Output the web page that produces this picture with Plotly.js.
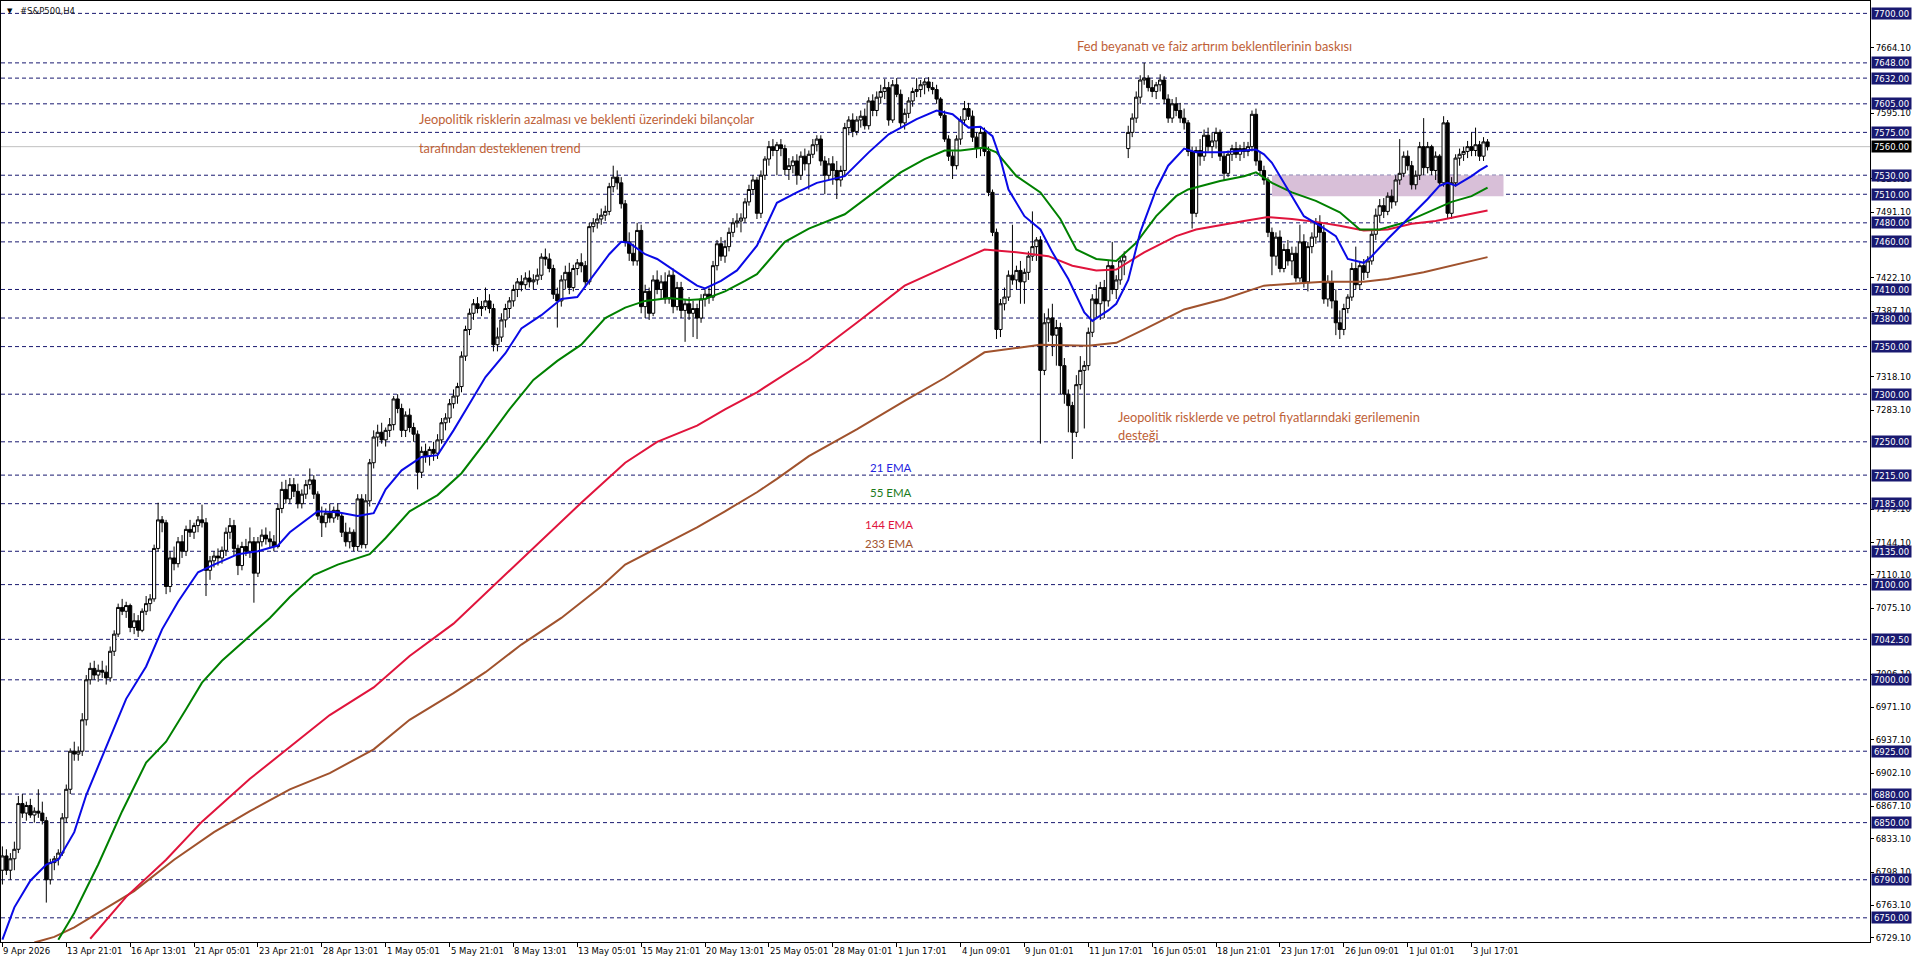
<!DOCTYPE html>
<html><head><meta charset="utf-8">
<script src="https://cdn.plot.ly/plotly-3.0.1.min.js"></script>
<style>html,body{margin:0;padding:0;background:#fff;overflow:hidden}#chart{width:1916px;height:963px}</style>
</head><body><div id="chart"></div>
<script>
// ---- candle data (H4 bars, index 0 = 9 Apr 2026) ----
const open = [6800,6815,6800,6812,6822,6870,6860,6868,6858,6862,6860,6852,6790,6808,6812,6818,6855,6885,6925,6922,
6925,6958,7000,7012,7005,7010,7008,7002,7030,7048,7076,7072,7078,7055,7062,7052,7072,7080,7085,7138,
7168,7165,7098,7128,7122,7145,7135,7158,7155,7162,7168,7165,7115,7125,7130,7128,7136,7155,7162,7138,
7120,7140,7135,7145,7112,7145,7152,7148,7145,7140,7180,7200,7190,7205,7198,7185,7195,7205,7210,7195,
7172,7165,7175,7170,7178,7172,7155,7145,7155,7140,7190,7142,7188,7228,7255,7260,7252,7262,7268,7295,
7285,7262,7278,7265,7258,7218,7240,7235,7242,7238,7252,7270,7275,7290,7298,7308,7340,7368,7385,7395,
7390,7392,7398,7390,7352,7360,7378,7390,7398,7410,7418,7415,7422,7418,7420,7425,7444,7442,7432,7405,
7398,7420,7428,7412,7432,7438,7435,7418,7476,7480,7484,7488,7492,7518,7528,7522,7500,7460,7448,7440,
7472,7392,7408,7385,7420,7410,7418,7400,7425,7392,7412,7388,7395,7385,7390,7380,7400,7405,7402,7435,
7458,7445,7455,7470,7480,7482,7485,7502,7515,7525,7490,7530,7547,7560,7556,7562,7558,7536,7540,7545,
7530,7550,7542,7552,7562,7568,7545,7530,7542,7535,7525,7535,7580,7588,7576,7588,7592,7582,7608,7598,
7612,7618,7622,7588,7625,7615,7585,7595,7608,7618,7620,7625,7628,7622,7620,7610,7593,7568,7550,7540,
7568,7588,7600,7592,7570,7558,7575,7555,7512,7470,7368,7395,7402,7425,7420,7430,7418,7428,7445,7455,
7462,7325,7375,7380,7362,7370,7330,7300,7288,7260,7310,7325,7330,7365,7400,7395,7412,7398,7435,7410,
7420,7440,7558,7575,7590,7612,7630,7632,7622,7618,7625,7630,7610,7590,7605,7598,7590,7585,7555,7490,
7556,7550,7572,7560,7566,7575,7550,7532,7552,7558,7552,7558,7555,7560,7594,7545,7535,7525,7470,7445,
7465,7432,7452,7440,7448,7422,7460,7418,7455,7465,7480,7470,7400,7418,7398,7375,7368,7390,7402,7432,
7415,7435,7428,7440,7468,7488,7498,7492,7508,7502,7525,7532,7550,7540,7520,7530,7560,7538,7560,7535,
7550,7522,7585,7490,7522,7548,7552,7555,7560,7556,7562,7550,7565];
const high = [6825,6822,6818,6830,6878,6880,6872,6875,6866,6885,6872,6856,6812,6815,6822,6860,6890,6928,6935,6930,
6965,7005,7018,7020,7016,7020,7015,7035,7052,7080,7085,7082,7080,7070,7068,7075,7088,7090,7142,7186,
7172,7168,7135,7140,7150,7152,7162,7168,7165,7172,7184,7170,7130,7135,7138,7140,7160,7170,7168,7142,
7145,7148,7160,7150,7150,7158,7160,7156,7152,7185,7208,7210,7212,7212,7206,7200,7210,7222,7215,7198,
7182,7180,7185,7182,7185,7175,7165,7160,7158,7195,7195,7195,7232,7262,7268,7270,7265,7275,7298,7300,
7290,7282,7285,7270,7262,7245,7248,7245,7250,7258,7275,7280,7295,7305,7312,7345,7372,7390,7400,7402,
7398,7412,7405,7395,7370,7385,7395,7402,7415,7422,7425,7428,7430,7426,7432,7448,7453,7448,7436,7412,
7425,7435,7438,7436,7442,7448,7440,7480,7485,7490,7495,7498,7522,7540,7535,7528,7504,7470,7458,7480,
7478,7415,7412,7425,7430,7425,7428,7430,7432,7418,7418,7400,7402,7398,7395,7405,7410,7412,7440,7462,
7465,7462,7475,7485,7490,7490,7506,7520,7530,7528,7535,7550,7566,7568,7565,7568,7562,7548,7550,7552,
7555,7558,7556,7568,7572,7572,7550,7548,7550,7545,7540,7585,7592,7595,7592,7598,7600,7612,7615,7618,
7625,7631,7628,7630,7632,7620,7600,7612,7622,7632,7630,7632,7633,7628,7625,7612,7598,7572,7555,7572,
7592,7608,7606,7598,7575,7580,7580,7560,7515,7474,7400,7412,7430,7478,7435,7440,7432,7450,7492,7465,
7466,7385,7390,7395,7378,7375,7338,7305,7292,7320,7340,7335,7370,7405,7415,7418,7420,7440,7460,7425,
7445,7450,7582,7595,7618,7635,7648,7635,7630,7628,7636,7634,7615,7610,7612,7606,7600,7588,7560,7560,
7568,7578,7580,7575,7580,7578,7555,7556,7562,7565,7562,7565,7565,7598,7600,7555,7540,7528,7475,7470,
7472,7458,7462,7455,7455,7478,7468,7460,7470,7485,7488,7478,7425,7430,7410,7388,7395,7405,7438,7455,
7440,7442,7445,7472,7495,7505,7506,7512,7515,7530,7568,7555,7556,7545,7535,7565,7590,7565,7562,7555,
7552,7592,7588,7528,7552,7558,7560,7566,7575,7580,7566,7570,7568];
const low = [6785,6795,6790,6800,6818,6855,6852,6855,6850,6855,6848,6766,6785,6800,6805,6815,6850,6880,6915,6915,
6920,6952,6995,7000,6998,7002,6995,6998,7025,7045,7068,7065,7050,7048,7045,7050,7068,7072,7082,7135,
7155,7090,7092,7115,7118,7128,7130,7150,7148,7155,7160,7088,7105,7118,7120,7122,7130,7148,7130,7110,
7115,7130,7128,7081,7108,7140,7142,7138,7135,7138,7175,7185,7185,7192,7180,7180,7190,7200,7190,7168,
7150,7160,7165,7165,7168,7150,7140,7138,7135,7135,7138,7138,7182,7222,7245,7248,7245,7255,7262,7280,
7255,7255,7260,7250,7200,7212,7228,7225,7230,7232,7248,7262,7270,7285,7290,7302,7335,7362,7378,7385,
7382,7388,7385,7345,7345,7355,7370,7380,7392,7402,7408,7410,7412,7410,7415,7420,7435,7428,7400,7370,
7392,7410,7405,7408,7425,7428,7412,7415,7470,7474,7478,7482,7488,7512,7515,7495,7455,7440,7435,7435,
7385,7380,7378,7382,7405,7400,7395,7395,7385,7388,7380,7355,7378,7360,7358,7375,7392,7395,7398,7430,
7440,7438,7450,7465,7475,7470,7480,7498,7510,7484,7485,7525,7540,7550,7530,7550,7530,7525,7532,7520,
7525,7535,7515,7548,7555,7540,7510,7525,7520,7505,7518,7530,7572,7570,7572,7580,7578,7578,7592,7592,
7605,7610,7582,7585,7612,7580,7578,7590,7602,7612,7612,7615,7618,7615,7605,7590,7565,7545,7526,7536,
7562,7582,7588,7565,7548,7550,7550,7508,7466,7358,7360,7388,7398,7415,7410,7395,7395,7420,7440,7440,
7248,7320,7355,7340,7330,7300,7290,7260,7232,7255,7305,7264,7325,7360,7380,7378,7380,7392,7405,7400,
7415,7425,7548,7570,7585,7605,7625,7618,7612,7610,7618,7605,7585,7585,7592,7585,7578,7550,7474,7486,
7540,7545,7555,7548,7558,7545,7525,7528,7545,7548,7545,7548,7550,7555,7540,7530,7520,7465,7425,7435,
7428,7428,7435,7425,7418,7418,7412,7408,7448,7458,7460,7395,7392,7390,7362,7358,7362,7385,7398,7410,
7410,7420,7422,7436,7462,7480,7485,7488,7495,7498,7520,7528,7535,7515,7515,7525,7530,7532,7530,7525,
7520,7518,7485,7484,7518,7540,7545,7548,7550,7550,7545,7545,7556];
const close = [6815,6800,6812,6822,6870,6860,6868,6858,6862,6860,6852,6790,6808,6812,6818,6855,6885,6925,6922,6925,
6958,7000,7012,7005,7010,7008,7002,7030,7048,7076,7072,7078,7055,7062,7052,7072,7080,7085,7138,7168,
7165,7098,7128,7122,7145,7135,7158,7155,7162,7168,7165,7115,7125,7130,7128,7136,7155,7162,7138,7120,
7140,7135,7145,7112,7145,7152,7148,7145,7140,7180,7200,7190,7205,7198,7185,7195,7205,7210,7195,7172,
7165,7175,7170,7178,7172,7155,7145,7155,7140,7190,7142,7188,7228,7255,7260,7252,7262,7268,7295,7285,
7262,7278,7265,7258,7218,7240,7235,7242,7238,7252,7270,7275,7290,7298,7308,7340,7368,7385,7395,7390,
7392,7398,7390,7352,7360,7378,7390,7398,7410,7418,7415,7422,7418,7420,7425,7444,7442,7432,7405,7398,
7420,7428,7412,7432,7438,7435,7418,7476,7480,7484,7488,7492,7518,7528,7522,7500,7460,7448,7440,7472,
7392,7408,7385,7420,7410,7418,7400,7425,7392,7412,7388,7395,7385,7390,7380,7400,7405,7402,7435,7458,
7445,7455,7470,7480,7482,7485,7502,7515,7525,7490,7530,7547,7560,7556,7562,7558,7536,7540,7545,7530,
7550,7542,7552,7562,7568,7545,7530,7542,7535,7525,7535,7580,7588,7576,7588,7592,7582,7608,7598,7612,
7618,7622,7588,7625,7615,7585,7595,7608,7618,7620,7625,7628,7622,7620,7610,7593,7568,7550,7540,7568,
7588,7600,7592,7570,7558,7575,7555,7512,7470,7368,7395,7402,7425,7420,7430,7418,7428,7445,7455,7462,
7325,7375,7380,7362,7370,7330,7300,7288,7260,7310,7325,7330,7365,7400,7395,7412,7398,7435,7410,7420,
7440,7445,7575,7590,7612,7630,7632,7622,7618,7625,7630,7610,7590,7605,7598,7590,7585,7555,7490,7556,
7550,7572,7560,7566,7575,7550,7532,7552,7558,7552,7558,7555,7560,7594,7545,7535,7525,7470,7445,7465,
7432,7452,7440,7448,7422,7460,7418,7455,7465,7480,7470,7400,7418,7398,7375,7368,7390,7402,7432,7415,
7435,7428,7440,7468,7488,7498,7492,7508,7502,7525,7532,7550,7540,7520,7530,7560,7538,7560,7535,7550,
7522,7585,7490,7522,7548,7552,7555,7560,7556,7562,7550,7565,7560];

// ---- time axis labels ----
const xTickBars = [0,16,32,48,64,80,96,112,128,144,160,176,192,208,224,240,256,272,288,304,320,336,352,368];
const xTickLabels = ["9 Apr 2026","13 Apr 21:01","16 Apr 13:01","21 Apr 05:01","23 Apr 21:01","28 Apr 13:01",
  "1 May 05:01","5 May 21:01","8 May 13:01","13 May 05:01","15 May 21:01","20 May 13:01","25 May 05:01",
  "28 May 01:01","1 Jun 17:01","4 Jun 09:01","9 Jun 01:01","11 Jun 17:01","16 Jun 05:01","18 Jun 21:01",
  "23 Jun 17:01","26 Jun 09:01","1 Jul 01:01","3 Jul 17:01"];

// ---- price axis ----
const priceTicks = [7664.1,7595.1,7526.1,7491.1,7422.1,7387.1,7318.1,7283.1,
  7179.1,7144.1,7110.1,7075.1,7006.1,6971.1,6937.1,6902.1,6867.1,6833.1,6798.1,6763.1,6729.1];
const levels = [7700,7648,7632,7605,7575,7530,7510,7480,7460,7410,7380,7350,7300,7250,7215,7185,7135,7100,7042.5,
  7000,6925,6880,6850,6790,6750];
const bidPrice = 7560;
const zoneBars = [318, 376];
const zonePrices = [7508, 7530];

// ---- moving averages ----
const ema21Bars = [0,3,7,11,14,18,21,26,31,36,40,44,49,53,59,64,69,72,79,84,89,93,96,100,105,109,113,117,121,126,
  130,135,140,144,147,152,155,157,161,164,169,174,176,180,184,189,194,199,204,211,217,222,226,229,234,238,242,245,248,250,
  252,256,260,263,267,271,273,277,279,282,285,289,292,296,299,306,311,314,316,318,322,326,330,334,337,341,343,347,352,357,
  360,362,364,368,370,372];
const ema21 = [6727,6761,6789,6806,6811,6840,6879,6930,6980,7014,7053,7082,7113,7121,7132,7135,7141,7155,7177,7176,
  7172,7175,7200,7220,7234,7236,7262,7290,7318,7343,7369,7383,7400,7402,7419,7447,7460,7459,7447,7442,
  7428,7414,7411,7419,7430,7456,7501,7512,7522,7529,7554,7573,7582,7589,7598,7594,7580,7581,7571,7547,
  7515,7487,7473,7449,7421,7386,7377,7388,7395,7420,7470,7515,7540,7558,7554,7554,7556,7557,7552,7543,
  7515,7487,7477,7466,7442,7438,7445,7463,7484,7505,7519,7522,7519,7529,7535,7540];
const ema55Bars = [14,18,24,30,36,41,46,50,55,60,67,72,78,84,92,96,102,109,115,121,127,133,139,145,151,156,161,167,172,176,
  181,186,189,196,202,211,217,225,231,236,240,246,249,254,260,265,269,274,279,284,289,294,297,305,311,314,318,323,329,335,
  340,345,351,357,363,368,372];
const ema55 = [6727,6755,6806,6862,6913,6935,6969,6997,7020,7039,7065,7087,7110,7121,7132,7149,7177,7194,7217,7250,
  7284,7315,7335,7352,7380,7391,7398,7401,7399,7400,7408,7419,7426,7460,7474,7489,7508,7533,7547,7556,
  7556,7559,7554,7529,7512,7484,7452,7442,7440,7459,7487,7508,7515,7524,7529,7533,7522,7512,7503,7491,
  7473,7473,7480,7491,7502,7508,7517];
const ema144Bars = [22,31,41,50,62,72,82,93,102,113,123,133,145,156,164,174,181,189,202,214,226,237,246,254,262,268,274,279,
  286,294,299,311,317,323,329,335,341,347,353,359,365,372];
const ema144 = [6728,6772,6811,6851,6896,6930,6963,6992,7025,7059,7099,7138,7186,7228,7250,7267,7284,7302,7337,7375,
  7414,7435,7452,7449,7445,7435,7430,7431,7449,7466,7473,7482,7486,7484,7481,7477,7472,7473,7479,7482,7487,7493];
const ema233Bars = [8,13,18,24,33,43,53,62,72,82,93,102,113,121,130,140,150,156,164,174,181,189,194,202,214,226,236,246,255,260,
  272,279,286,296,306,316,323,331,341,347,356,363,372];
const ema233 = [6724,6730,6740,6755,6778,6811,6840,6862,6885,6902,6927,6958,6986,7008,7037,7065,7098,7121,7138,7160,
  7177,7197,7211,7235,7263,7293,7317,7344,7349,7352,7351,7354,7368,7389,7400,7414,7416,7418,7418,7421,7428,7435,7444];

// ---- texts ----
const notes = [
  {text:"Fed beyanatı ve faiz artırım beklentilerinin baskısı", x:1075, y:46},
  {text:"Jeopolitik risklerin azalması ve beklenti üzerindeki bilançolar", x:417, y:119},
  {text:"tarafından desteklenen trend", x:417, y:148},
  {text:"Jeopolitik risklerde ve petrol fiyatlarındaki gerilemenin", x:1116, y:417},
  {text:"desteği", x:1116, y:435}
];
const emaLabels = [
  {text:"21 EMA", x:868, y:467, color:"#2424E0"},
  {text:"55 EMA", x:868, y:492, color:"#1B7A1B"},
  {text:"144 EMA", x:863, y:524, color:"#E0143C"},
  {text:"233 EMA", x:863, y:543, color:"#A0522D"}
];

// ---- build ----
const W = 1916, H = 963, ML = 1, MR = 46, MT = 1, MB = 21;
const pw = W - ML - MR, ph = H - MT - MB;
const px = v => (v - ML) / pw;
const py = v => 1 - (v - MT) / ph;

const bars = close.map((_, i) => i);
const traces = [
  {type:'candlestick', x:bars, open:open, high:high, low:low, close:close,
   increasing:{line:{color:'#000', width:1}, fillcolor:'#ffffff'},
   decreasing:{line:{color:'#000', width:1}, fillcolor:'#000000'},
   whiskerwidth:0, hoverinfo:'skip', showlegend:false},
  {type:'scatter', mode:'lines', x:ema233Bars, y:ema233, line:{color:'#A0522D', width:2}, hoverinfo:'skip', showlegend:false},
  {type:'scatter', mode:'lines', x:ema144Bars, y:ema144, line:{color:'#E0143C', width:2}, hoverinfo:'skip', showlegend:false},
  {type:'scatter', mode:'lines', x:ema55Bars, y:ema55, line:{color:'#008000', width:2}, hoverinfo:'skip', showlegend:false},
  {type:'scatter', mode:'lines', x:ema21Bars, y:ema21, line:{color:'#0A0AE6', width:2}, hoverinfo:'skip', showlegend:false}
];

const shapes = [];
shapes.push({type:'rect', xref:'x', yref:'y', x0:zoneBars[0], x1:zoneBars[1], y0:zonePrices[0], y1:zonePrices[1],
  fillcolor:'#D8BFD8', line:{width:0}, layer:'below'});
levels.forEach(l => shapes.push({type:'line', xref:'paper', yref:'y', x0:0, x1:1, y0:l, y1:l,
  line:{color:'#191970', width:1, dash:'4px,3px'}, layer:'below'}));
shapes.push({type:'line', xref:'paper', yref:'y', x0:0, x1:1, y0:bidPrice, y1:bidPrice,
  line:{color:'#C0C0C0', width:1}, layer:'below'});

const axisFont = {family:'DejaVu Sans', size:8.5, color:'#000'};
const annotations = [];
levels.forEach(l => annotations.push({xref:'paper', yref:'y', x:1, y:l, xanchor:'left', yanchor:'middle', xshift:1,
  text:l.toFixed(2), showarrow:false, bgcolor:'#191970', borderpad:0, width:39, height:11,
  font:{family:'DejaVu Sans', size:8.5, color:'#fff'}}));
annotations.push({xref:'paper', yref:'y', x:1, y:bidPrice, xanchor:'left', yanchor:'middle', xshift:1,
  text:bidPrice.toFixed(2), showarrow:false, bgcolor:'#000', borderpad:0, width:39, height:11,
  font:{family:'DejaVu Sans', size:8.5, color:'#fff'}});
xTickBars.forEach((b, i) => annotations.push({xref:'x', yref:'paper', x:b, y:0, xanchor:'left', yanchor:'top',
  yshift:-2, xshift:-1, text:xTickLabels[i], showarrow:false, font:axisFont}));
notes.forEach(n => annotations.push({xref:'paper', yref:'paper', x:px(n.x), y:py(n.y), xanchor:'left', yanchor:'middle',
  text:n.text, showarrow:false, font:{family:'Lato', size:12.8, color:'#BE6137'}}));
emaLabels.forEach(n => annotations.push({xref:'paper', yref:'paper', x:px(n.x), y:py(n.y), xanchor:'left', yanchor:'middle',
  text:n.text, showarrow:false, font:{family:'Lato', size:11.5, color:n.color}}));
annotations.push({xref:'paper', yref:'paper', x:px(5), y:py(11), xanchor:'left', yanchor:'middle',
  text:'▼', showarrow:false, font:{family:'DejaVu Sans', size:7, color:'#000'}});
annotations.push({xref:'paper', yref:'paper', x:px(18), y:py(11), xanchor:'left', yanchor:'middle',
  text:'#S&amp;P500,H4', showarrow:false, font:{family:'DejaVu Sans', size:8.5, color:'#111'}});

const layout = {
  width:W, height:H, margin:{l:ML, r:MR, t:MT, b:MB, pad:0},
  paper_bgcolor:'#fff', plot_bgcolor:'#fff', showlegend:false, hovermode:false,
  boxgap:0.2, boxgroupgap:0,
  xaxis:{range:[-0.35, 467.8], rangeslider:{visible:false}, tickvals:xTickBars, showticklabels:false,
    ticks:'outside', ticklen:4, tickcolor:'#000', showgrid:false, zeroline:false,
    showline:true, mirror:true, linecolor:'#000', linewidth:1, fixedrange:true},
  yaxis:{side:'right', range:[6724.6, 7713], tickvals:priceTicks, ticktext:priceTicks.map(v => v.toFixed(2)),
    ticks:'outside', ticklen:3, tickcolor:'#000', tickfont:axisFont, showgrid:false, zeroline:false,
    showline:true, mirror:true, linecolor:'#000', linewidth:1, fixedrange:true},
  shapes:shapes, annotations:annotations
};
Plotly.newPlot('chart', traces, layout, {staticPlot:true, displayModeBar:false});
</script></body></html>
